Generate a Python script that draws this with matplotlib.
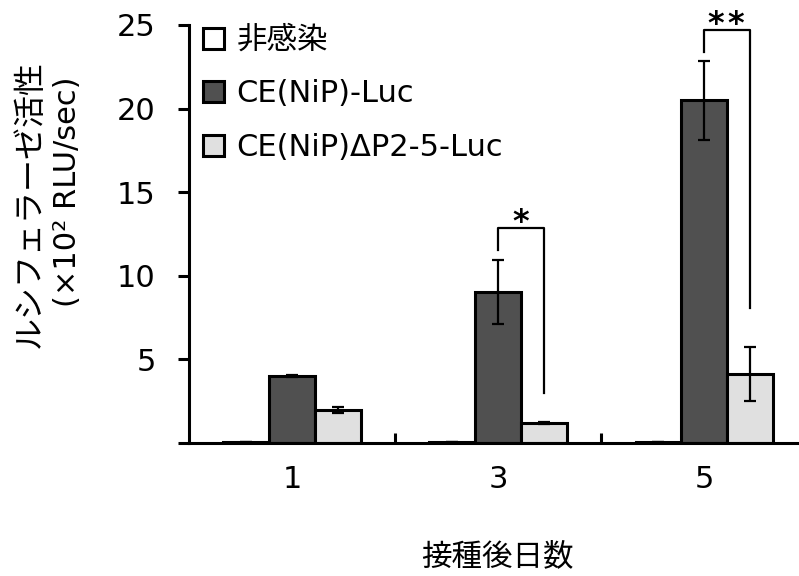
import matplotlib
matplotlib.use("Agg")
import matplotlib.pyplot as plt
import numpy as np

plt.rcParams['font.family'] = ['DejaVu Sans', 'Noto Sans CJK JP']

# data
days = ['1', '3', '5']
series = ['非感染', 'CE(NiP)-Luc', 'CE(NiP)ΔP2-5-Luc']
mock = [0.03, 0.03, 0.03]
mock_err = [0.0, 0.0, 0.0]
wt = [4.02, 9.05, 20.5]
wt_err = [0.05, 1.92, 2.35]
dp = [1.97, 1.21, 4.13]
dp_err = [0.18, 0.05, 1.6]
colors = ['#ffffff', '#505050', '#e0e0e0']
yticks = [0, 5, 10, 15, 20, 25]
ytick_labels = ['', '5', '10', '15', '20', '25']

fig = plt.figure(figsize=(7.99, 5.76), dpi=100)
ax = fig.add_axes([189/799, 133/576, 1 - 189/799, (443-25)/576])

x = np.arange(len(days))
w = 0.222
bars = []
for i, (vals, errs) in enumerate([(mock, mock_err), (wt, wt_err), (dp, dp_err)]):
    b = ax.bar(x + (i - 1) * w, vals, w, color=colors[i], edgecolor='black',
               linewidth=2.2, label=series[i], zorder=2)
    bars.append(b)
    ax.errorbar(x + (i - 1) * w, vals, yerr=errs, fmt='none', ecolor='black',
                elinewidth=1.6, capsize=4.5, capthick=1.6, zorder=3)

# significance brackets: (group, top, left bottom, right bottom, stars)
brackets = [(1, 12.86, 11.54, 2.99, 1), (2, 24.7, 23.4, 8.07, 2)]
for g, top, lb, rb, n in brackets:
    xl, xr = g, g + w
    ax.plot([xl, xl, xr, xr], [lb, top, top, rb], color='black', lw=1.6,
            clip_on=False, zorder=4)
    offsets = [0.0] if n == 1 else [-8.3, 6.0]
    for dx in offsets:
        ax.annotate('*', xy=((xl + xr) / 2, top), xytext=(dx, -2.5),
                    textcoords='offset points', ha='center', va='baseline',
                    fontsize=23, fontweight='bold', family='DejaVu Sans',
                    annotation_clip=False)

ax.set_xlim(-0.5, 2.46)
ax.set_ylim(0, 25)
ax.set_yticks(yticks)
ax.set_yticklabels(ytick_labels)
ax.set_xticks(x)
ax.set_xticklabels(days)
ax.set_xticks([0.5, 1.5], minor=True)
ax.tick_params(axis='y', direction='out', length=8, width=2.2, pad=16, labelsize=22)
ax.tick_params(axis='x', which='major', length=0, pad=16, labelsize=22)
ax.tick_params(axis='x', which='minor', direction='in', length=7.5, width=2.2)
for s in ['top', 'right']:
    ax.spines[s].set_visible(False)
for s in ['left', 'bottom']:
    ax.spines[s].set_linewidth(2.2)

fig.text(30/799, 1 - 204/576, 'ルシフェラーゼ活性', rotation=90, ha='center',
         va='center', fontsize=23)
fig.text(67/799, 1 - 192/576, '(×10² RLU/sec)', rotation=90, ha='center',
         va='center', fontsize=22)
fig.text(497/799, 1 - 557/576, '接種後日数', ha='center', va='center', fontsize=22)

ax.legend(handles=bars, loc='upper left', bbox_to_anchor=(203/799, 1 - 26/576),
          bbox_transform=fig.transFigure, frameon=False, fontsize=22,
          handlelength=0.7, handleheight=0.7, handletextpad=0.4,
          labelspacing=0.8, borderpad=0, borderaxespad=0)

fig.savefig('out.png', dpi=100)
